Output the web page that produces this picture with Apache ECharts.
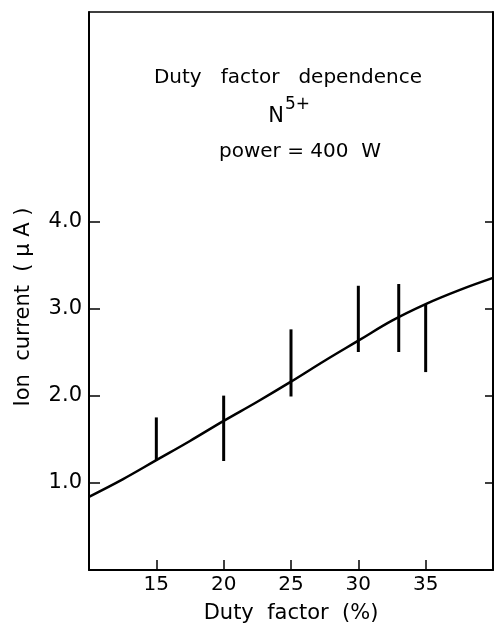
<!DOCTYPE html>
<html>
<head>
<meta charset="utf-8">
<script src="https://cdn.jsdelivr.net/npm/echarts@6/dist/echarts.min.js"></script>
<style>html,body{margin:0;padding:0;background:#fff;}#c{width:495px;height:629px;}</style>
</head>
<body>
<div id="c"></div>
<script>
// Smooth fitted curve (duty factor %, ion current µA)
const curveX = [10, 12.5, 15, 17.5, 20, 22.5, 25, 27.5, 30, 32.5, 35, 37.5, 40];
const curveY = [0.84, 1.04, 1.26, 1.48, 1.71, 1.93, 2.16, 2.40, 2.63, 2.86, 3.05, 3.21, 3.35];
// Vertical error bars
const barX = [15, 20, 25, 30, 33, 35];
const barLow = [1.26, 1.25, 1.99, 2.50, 2.50, 2.27];
const barHigh = [1.75, 2.00, 2.76, 3.26, 3.28, 3.05];
// Tick labels
const xTicks = [15, 20, 25, 30, 35];
const yTicks = [1, 2, 3, 4];

const FONT = 'DejaVu Sans';
const chart = echarts.init(document.getElementById('c'), null, {renderer: 'canvas'});

const curveData = curveX.map((x, i) => [x, curveY[i]]);
const barData = barX.map((x, i) => [x, barLow[i], barHigh[i]]);

chart.setOption({
  animation: false,
  backgroundColor: '#fff',
  grid: {left: 89, right: 2, top: 12, bottom: 55},
  xAxis: [{
    type: 'value', min: 10, max: 40,
    axisLine: {show: true, onZero: false, lineStyle: {color: '#000', width: 2}},
    axisTick: {show: true, inside: true, length: 10, customValues: xTicks, lineStyle: {color: '#000', width: 1.5}},
    axisLabel: {customValues: xTicks, color: '#000', fontFamily: FONT, fontSize: 20, margin: 5},
    splitLine: {show: false},
    name: 'Duty  factor  (%)', nameLocation: 'middle', nameGap: 33,
    nameTextStyle: {color: '#000', fontFamily: FONT, fontSize: 21}
  }, {
    type: 'value', min: 10, max: 40, position: 'top',
    axisLine: {show: true, onZero: false, lineStyle: {color: '#000', width: 1.5}},
    axisTick: {show: false}, axisLabel: {show: false}, splitLine: {show: false}
  }],
  yAxis: [{
    type: 'value', min: 0, max: 6.4,
    axisLine: {show: true, onZero: false, lineStyle: {color: '#000', width: 2}},
    axisTick: {show: true, inside: true, length: 11, customValues: yTicks, lineStyle: {color: '#000', width: 1.5}},
    axisLabel: {customValues: yTicks, color: '#000', fontFamily: FONT, fontSize: 21, margin: 7,
      formatter: v => v.toFixed(1)},
    splitLine: {show: false}
  }, {
    type: 'value', min: 0, max: 6.4, position: 'right',
    axisLine: {show: true, onZero: false, lineStyle: {color: '#000', width: 2}},
    axisTick: {show: true, inside: true, length: 8, customValues: yTicks, lineStyle: {color: '#000', width: 1.5}},
    axisLabel: {show: false}, splitLine: {show: false}
  }],
  graphic: [
    {type: 'text', style: {text: 'Duty   factor   dependence', fill: '#000', font: '20px "DejaVu Sans"', align: 'center', verticalAlign: 'middle'}, position: [288, 78]},
    {type: 'text', style: {text: 'N', fill: '#000', font: '21px "DejaVu Sans"', align: 'right', verticalAlign: 'middle'}, position: [284, 117]},
    {type: 'text', style: {text: '5+', fill: '#000', font: '17px "DejaVu Sans"', align: 'left', verticalAlign: 'middle'}, position: [285, 105]},
    {type: 'text', style: {text: 'power = 400  W', fill: '#000', font: '20px "DejaVu Sans"', align: 'center', verticalAlign: 'middle'}, position: [300, 152]},
    {type: 'text', style: {text: 'Ion  current  ( μ A )', fill: '#000', font: '21px "DejaVu Sans"', align: 'center', verticalAlign: 'middle'}, position: [24, 307], rotation: Math.PI / 2}
  ],
  series: [{
    type: 'line', data: curveData, smooth: 0.4, symbol: 'none',
    lineStyle: {color: '#000', width: 2.5}, z: 3
  }, {
    type: 'custom', data: barData,
    renderItem: (params, api) => {
      const p1 = api.coord([api.value(0), api.value(1)]);
      const p2 = api.coord([api.value(0), api.value(2)]);
      return {type: 'line', shape: {x1: p1[0], y1: p1[1], x2: p2[0], y2: p2[1]},
        style: {stroke: '#000', lineWidth: 3}};
    }, z: 4
  }]
});
</script>
</body>
</html>
